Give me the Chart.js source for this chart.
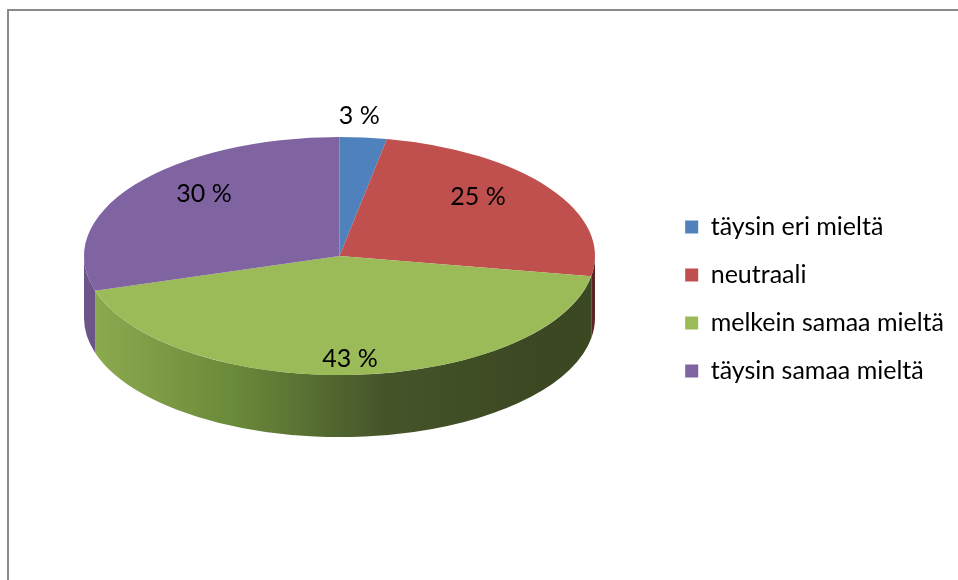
<!DOCTYPE html>
<html lang="fi">
<head>
    <meta charset="UTF-8">
    <title>3D-piirakka</title>
    <style>
        body {
            margin: 0;
            background-color: #ffffff;
            overflow: hidden;
            font-family: Lato, sans-serif;
        }
        #frame {
            position: absolute;
            left: 7px;
            top: 9px;
            width: 1000px;
            height: 1000px;
            border-top: 2px solid #8a8a8a;
            border-left: 2px solid #8a8a8a;
        }
        #chart {
            position: absolute;
            left: 0;
            top: 0;
        }
    </style>
</head>
<body>

<div id="frame"></div>
<canvas id="chart" width="958" height="580"></canvas>

<script src="https://cdn.jsdelivr.net/npm/chart.js"></script>

<script>
    // Data
    const categories = ['täysin eri mieltä', 'neutraali', 'melkein samaa mieltä', 'täysin samaa mieltä'];
    const percents = [3, 25, 43, 30];

    // Office 2007 palette
    const topColors = ['#4f81bd', '#c0504d', '#9bbb59', '#8064a2'];
    const sideColors = [
        ['#3e6797', '#2c4a6e'],
        ['#7a3432', '#5a2524'],
        ['#8eac50', '#6b8a3a', '#45552a', '#3c4822'],
        ['#6c5589', '#5a4772']
    ];

    // where the ellipse sits on the page
    const centerX = 339.5;
    const centerY = 256;
    const radiusX = 255.5;
    const tilt = 0.466;   // ry / rx
    const depth = 62;     // height of the pie side
    const textFont = { family: 'Lato', size: 25 };

    function sideGradient(ctx, i) {
        const stops = sideColors[i];
        const g = ctx.createLinearGradient(centerX - radiusX, 0, centerX + radiusX * 0.75, 0);
        stops.forEach((c, k) => g.addColorStop(k / (stops.length - 1), c));
        return g;
    }

    // draws the side of the pie, then squashes the real pie into an ellipse
    const pie3d = {
        id: 'pie3d',
        beforeDatasetsDraw(chart) {
            const ctx = chart.ctx;
            const arcs = chart.getDatasetMeta(0).data;
            const rx = arcs[0].outerRadius;
            const ry = rx * tilt;

            arcs.forEach((arc, i) => {
                // only the front half (0..PI) of the side can be seen
                const a1 = Math.max(arc.startAngle, 0);
                const a2 = Math.min(arc.endAngle, Math.PI);
                if (a2 <= a1) return;
                ctx.beginPath();
                ctx.ellipse(centerX, centerY, rx, ry, 0, a1, a2);
                ctx.ellipse(centerX, centerY + depth, rx, ry, 0, a2, a1, true);
                ctx.closePath();
                ctx.fillStyle = sideGradient(ctx, i);
                ctx.fill();
            });

            ctx.save();
            ctx.translate(centerX, centerY);
            ctx.scale(1, tilt);
            ctx.translate(-arcs[0].x, -arcs[0].y);
        },
        afterDatasetsDraw(chart) {
            const ctx = chart.ctx;
            ctx.restore();

            const arcs = chart.getDatasetMeta(0).data;
            const rx = arcs[0].outerRadius;
            const ry = rx * tilt;

            ctx.save();
            ctx.font = Chart.helpers.toFont(textFont).string;
            ctx.fillStyle = '#000000';
            ctx.textAlign = 'center';
            ctx.textBaseline = 'middle';
            arcs.forEach((arc, i) => {
                const mid = (arc.startAngle + arc.endAngle) / 2;
                const cos = Math.cos(mid);
                const sin = Math.sin(mid);
                let x, y;
                if (percents[i] < 5) {
                    // small slice: label goes outside, above the edge
                    x = centerX + rx * cos - 4;
                    y = centerY + ry * sin - 22;
                } else {
                    x = centerX + rx * 0.66 * cos;
                    y = centerY + ry * 0.87 * sin;
                }
                ctx.fillText(percents[i] + ' %', x, y);
            });
            ctx.restore();
        }
    };

    new Chart(document.getElementById('chart'), {
        type: 'pie',
        data: {
            labels: categories,
            datasets: [{
                data: percents,
                backgroundColor: topColors,
                borderWidth: 0,
                radius: radiusX,
                clip: false
            }]
        },
        options: {
            responsive: false,
            animation: false,
            events: [],
            layout: {
                padding: { top: 18, right: 4 }
            },
            plugins: {
                legend: {
                    position: 'right',
                    labels: {
                        boxWidth: 13,
                        boxHeight: 13,
                        padding: 23,
                        color: '#000000',
                        font: textFont
                    }
                },
                tooltip: { enabled: false }
            }
        },
        plugins: [pie3d]
    });
</script>

</body>
</html>
